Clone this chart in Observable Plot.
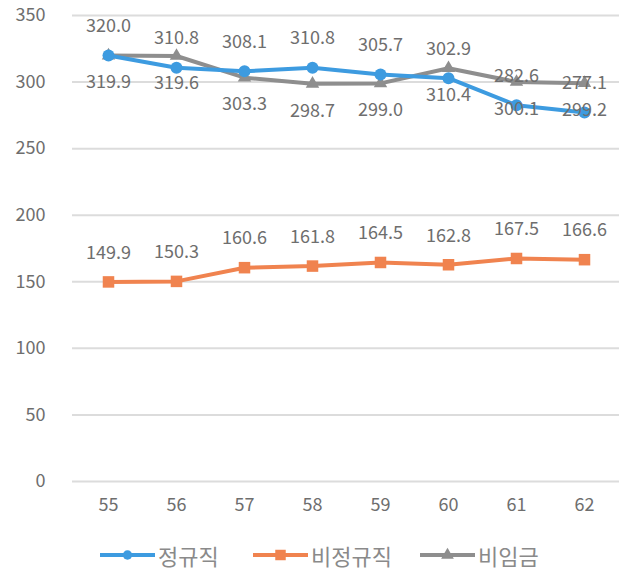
<!DOCTYPE html>
<html>
<head>
<meta charset="utf-8">
<script src="https://cdn.jsdelivr.net/npm/d3@7"></script>
<script src="https://cdn.jsdelivr.net/npm/@observablehq/plot@0.6"></script>
<style>
  body { margin: 0; background: #fff; font-family: "Noto Sans CJK KR", "Noto Sans", sans-serif; }
  #chart { width: 619px; position: relative; }
  .legend { position: relative; height: 42px; }
  .legend .item { position: absolute; top: 12px; display: flex; align-items: center; height: 26px; }
  .legend .item span { font-size: 22px; color: #8a8a8a; margin-left: 3px; line-height: 26px; }
</style>
</head>
<body>
<div id="chart"></div>
<script>
// Years (x categories)
const years = [55, 56, 57, 58, 59, 60, 61, 62];
// 정규직
const regular = [320.0, 310.8, 308.1, 310.8, 305.7, 302.9, 282.6, 277.1];
// 비정규직
const nonRegular = [149.9, 150.3, 160.6, 161.8, 164.5, 162.8, 167.5, 166.6];
// 비임금
const nonWage = [319.9, 319.6, 303.3, 298.7, 299.0, 310.4, 300.1, 299.2];
// y axis ticks
const yTicks = [0, 50, 100, 150, 200, 250, 300, 350];

const seriesNames = ["정규직", "비정규직", "비임금"];
const seriesValues = [regular, nonRegular, nonWage];
const seriesColors = ["#3d9be0", "#f0834f", "#8e8e8e"];
const seriesSymbols = ["circle", "square", "triangle"];
const seriesLabelDy = [-29, -29, 27];
// legend item left edges
const legendLeft = [100, 253, 420];
// series are stacked so that 정규직 is drawn last (on top)
const drawOrder = [2, 1, 0];

const rows = seriesNames.flatMap((name, i) =>
  years.map((year, j) => ({ series: name, year, value: seriesValues[i][j], idx: i }))
);

const textColor = "#6e6e6e";
const marks = [
  Plot.ruleY(yTicks, { stroke: "#dcdcdc", strokeWidth: 2 }),
  Plot.axisY({ ticks: yTicks, tickSize: 0, tickPadding: 27, fontSize: 18, fill: textColor, label: null, style: "letter-spacing:0.5px" }),
  Plot.axisX({ tickSize: 0, tickPadding: 17, fontSize: 18, fill: textColor, label: null, style: "letter-spacing:0.5px" })
];

drawOrder.forEach(i => {
  const data = rows.filter(d => d.idx === i);
  marks.push(Plot.line(data, { x: "year", y: "value", stroke: seriesColors[i], strokeWidth: 4 }));
  marks.push(Plot.dot(data, {
    x: "year", y: "value", symbol: seriesSymbols[i], fill: seriesColors[i],
    r: i === 1 ? 6.5 : i === 0 ? 6 : 5, stroke: null
  }));
});

seriesNames.forEach((name, i) => {
  const data = rows.filter(d => d.idx === i);
  marks.push(Plot.text(data, {
    x: "year", y: "value", text: d => d.value.toFixed(1), dy: seriesLabelDy[i],
    fontSize: 18, fill: textColor, style: "letter-spacing:0.8px"
  }));
});

const chart = Plot.plot({
  width: 619,
  height: 530,
  marginLeft: 72,
  marginRight: 0,
  marginTop: 15,
  marginBottom: 49,
  style: { fontFamily: "'Noto Sans CJK KR', 'Noto Sans', sans-serif", background: "#fff" },
  x: { type: "point", domain: years, padding: 0.5 },
  y: { domain: [0, 350] },
  marks
});
document.getElementById("chart").appendChild(chart);

// Legend below the plot
const legend = document.createElement("div");
legend.className = "legend";
seriesNames.forEach((name, i) => {
  const item = document.createElement("div");
  item.className = "item";
  item.style.left = legendLeft[i] + "px";
  const sw = d3.create("svg").attr("width", 55).attr("height", 16);
  sw.append("line").attr("x1", 0).attr("x2", 55).attr("y1", 8).attr("y2", 8)
    .attr("stroke", seriesColors[i]).attr("stroke-width", 4);
  sw.append("path").attr("transform", "translate(27.5,8)")
    .attr("d", d3.symbol(i === 0 ? d3.symbolCircle : i === 1 ? d3.symbolSquare : d3.symbolTriangle, i === 1 ? 110 : 70)())
    .attr("fill", seriesColors[i]);
  item.appendChild(sw.node());
  const label = document.createElement("span");
  label.textContent = name;
  item.appendChild(label);
  legend.appendChild(item);
});
document.getElementById("chart").appendChild(legend);
</script>
</body>
</html>
